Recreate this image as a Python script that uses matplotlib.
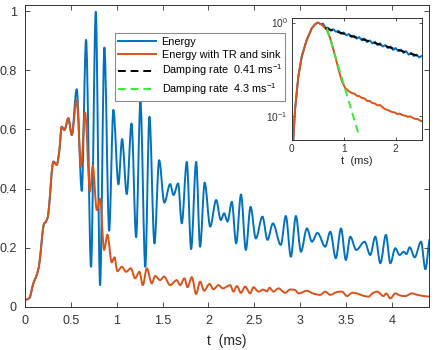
import numpy as np
import matplotlib
matplotlib.use("Agg")
import matplotlib.pyplot as plt
from matplotlib.path import Path
from matplotlib.patches import PathPatch
from matplotlib.lines import Line2D

# ---------------- data ----------------
# common rise (both curves coincide)
t_rise = [0.0, 0.03, 0.055, 0.091, 0.127, 0.157, 0.2, 0.229, 0.255, 0.31, 0.346,
          0.375, 0.4, 0.43, 0.473, 0.51]
e_rise = [0.023, 0.026, 0.034, 0.079, 0.107, 0.147, 0.271, 0.288, 0.316, 0.491, 0.48,
          0.53, 0.609, 0.598, 0.638, 0.581]

# "Energy" after the common part
t_energy = [0.564, 0.619, 0.666, 0.72, 0.772, 0.819, 0.866, 0.918, 0.964, 1.019, 1.059,
            1.11, 1.162, 1.212, 1.259, 1.312, 1.357, 1.412, 1.463, 1.52, 1.583, 1.62,
            1.67, 1.71, 1.765, 1.812, 1.867, 1.91, 1.96, 2.02, 2.085, 2.136, 2.172,
            2.209, 2.256, 2.303, 2.356, 2.409, 2.46, 2.518, 2.59, 2.645, 2.704, 2.79,
            2.845, 2.9, 2.955, 3.01, 3.075, 3.13, 3.19, 3.275, 3.33, 3.39, 3.447, 3.5,
            3.548, 3.613, 3.704, 3.766, 3.821, 3.876, 3.937, 3.985, 4.039, 4.086, 4.13,
            4.16, 4.196, 4.25, 4.32, 4.367, 4.41]
e_energy = [0.736, 0.392, 0.903, 0.135, 0.998, 0.073, 0.877, 0.257, 0.666, 0.414, 0.567,
            0.381, 0.62, 0.235, 0.694, 0.135, 0.643, 0.214, 0.496, 0.352, 0.415, 0.378,
            0.417, 0.282, 0.49, 0.195, 0.49, 0.203, 0.42, 0.271, 0.361, 0.293, 0.316,
            0.288, 0.355, 0.214, 0.38, 0.192, 0.338, 0.231, 0.305, 0.226, 0.282, 0.209,
            0.307, 0.169, 0.307, 0.186, 0.265, 0.22, 0.25, 0.203, 0.254, 0.164, 0.265, 0.158,
            0.237, 0.192, 0.22, 0.175, 0.237, 0.147, 0.243, 0.147, 0.198, 0.175, 0.186,
            0.178, 0.201, 0.167, 0.22, 0.127, 0.226]

# "Energy with TR and sink" after the common part
t_sink = [0.564, 0.611, 0.655, 0.709, 0.739, 0.783, 0.819, 0.863, 0.899, 0.946, 0.975,
          1.008, 1.056, 1.103, 1.154, 1.201, 1.248, 1.285, 1.329, 1.383, 1.419, 1.474,
          1.517, 1.583, 1.656, 1.692, 1.739, 1.772, 1.82, 1.867, 1.91, 1.954, 2.012,
          2.056, 2.11, 2.158, 2.238, 2.274, 2.311, 2.355, 2.402, 2.456, 2.492, 2.547,
          2.6, 2.64, 2.667, 2.71, 2.765, 2.838, 2.89, 2.948, 2.985, 3.075, 3.14, 3.22,
          3.275, 3.33, 3.395, 3.457, 3.512, 3.57, 3.621, 3.68, 3.748, 3.79, 3.84, 3.912,
          3.94, 3.985, 4.04, 4.09, 4.148, 4.22, 4.28, 4.348, 4.41]
e_sink = [0.70, 0.474, 0.657, 0.389, 0.476, 0.327, 0.365, 0.192, 0.244, 0.15, 0.167,
          0.12, 0.135, 0.118, 0.13, 0.096, 0.118, 0.073, 0.13, 0.079, 0.104, 0.09,
          0.102, 0.073, 0.09, 0.073, 0.096, 0.066, 0.1, 0.043, 0.085, 0.054, 0.077,
          0.059, 0.073, 0.062, 0.073, 0.051, 0.07, 0.047, 0.068, 0.045, 0.066, 0.051,
          0.058, 0.052, 0.064, 0.051, 0.062, 0.047, 0.058, 0.056, 0.045, 0.054, 0.045, 0.04,
          0.051, 0.04, 0.049, 0.051, 0.036, 0.047, 0.045, 0.038, 0.034, 0.045, 0.051, 0.036,
          0.045, 0.028, 0.045, 0.038, 0.036, 0.045, 0.04, 0.036, 0.034]

# inset: normalised energies (log scale)
t_in_rise = [0.015, 0.03, 0.064, 0.128, 0.193, 0.29, 0.387, 0.45, 0.503]
e_in_rise = [0.045, 0.056, 0.118, 0.267, 0.435, 0.655, 0.87, 0.96, 1.0]

t_in_energy = [0.56, 0.60, 0.65, 0.70, 0.75, 0.80, 0.85, 0.90, 0.95, 1.00, 1.05,
               1.10, 1.15, 1.20, 1.25, 1.30, 1.35, 1.40, 1.45, 1.50, 1.55, 1.60, 1.65,
               1.70, 1.75, 1.80, 1.85, 1.90, 1.95, 2.00, 2.05, 2.10, 2.15, 2.20, 2.25,
               2.30, 2.35, 2.40, 2.45, 2.50]
e_in_energy = [0.96, 0.975, 0.88, 0.88, 0.82, 0.85, 0.80, 0.815, 0.76, 0.785, 0.73,
               0.755, 0.70, 0.725, 0.675, 0.70, 0.645, 0.675, 0.62, 0.645, 0.60, 0.625,
               0.575, 0.60, 0.555, 0.575, 0.535, 0.555, 0.51, 0.535, 0.495, 0.515, 0.475,
               0.495, 0.455, 0.475, 0.44, 0.455, 0.425, 0.44]

t_in_sink = [0.58, 0.677, 0.74, 0.80, 0.838, 0.902, 0.967, 1.03, 1.10, 1.16,
             1.21, 1.25, 1.30, 1.354, 1.40, 1.45, 1.50, 1.547, 1.60, 1.65, 1.70, 1.74,
             1.79, 1.84, 1.89, 1.934, 1.98, 2.03, 2.08, 2.128, 2.18, 2.23, 2.28, 2.32,
             2.37, 2.42, 2.47, 2.51]
e_in_sink = [0.945, 0.836, 0.68, 0.52, 0.435, 0.314, 0.236, 0.20, 0.185, 0.177,
             0.174, 0.166, 0.164, 0.157, 0.155, 0.146, 0.146, 0.139, 0.137, 0.131, 0.132,
             0.126, 0.12, 0.117, 0.114, 0.111, 0.11, 0.106, 0.107, 0.103, 0.102, 0.099,
             0.1, 0.097, 0.094, 0.094, 0.09, 0.0885]

t_fit_slow = [0.644, 2.515]
e_fit_slow = [0.87, 0.428]
t_fit_fast = [0.677, 1.30]
e_fit_fast = [0.87, 0.061]

labels = ["Energy", "Energy with TR and sink",
          r"Damping rate  0.41 ms$^{-1}$", r"Damping rate  4.3 ms$^{-1}$"]
xticks = [0, 0.5, 1, 1.5, 2, 2.5, 3, 3.5, 4]
xticklabels = ["0", "0.5", "1", "1.5", "2", "2.5", "3", "3.5", "4"]
yticks = [0, 0.2, 0.4, 0.6, 0.8, 1.0]
yticklabels = ["0", "0.2", "0.4", "0.6", "0.8", "1"]

# ---------------- style ----------------
plt.rcParams['font.family'] = ['Liberation Sans', 'DejaVu Sans']
plt.rcParams['mathtext.fontset'] = 'custom'
plt.rcParams['mathtext.rm'] = 'Liberation Sans'
plt.rcParams['mathtext.it'] = 'Liberation Sans:italic'
plt.rcParams['mathtext.bf'] = 'Liberation Sans:bold'

BLUE = '#0072BD'
ORANGE = '#D95319'
GREEN = '#33EE33'
AXC = '0.2'
LW = 1.4
DASH = (0, (4, 2.5))


def smooth_curve(ax, ts, es, color):
    """Draw a smooth curve through the read points (flat tangent at extrema)."""
    n = len(ts)
    m = []
    for i in range(n):
        if i == 0:
            s = (es[1] - es[0]) / (ts[1] - ts[0])
        elif i == n - 1:
            s = (es[-1] - es[-2]) / (ts[-1] - ts[-2])
        else:
            d0 = es[i] - es[i - 1]
            d1 = es[i + 1] - es[i]
            s = 0.0 if d0 * d1 <= 0 else (es[i + 1] - es[i - 1]) / (ts[i + 1] - ts[i - 1])
        m.append(s)
    verts = [(ts[0], es[0])]
    codes = [Path.MOVETO]
    for i in range(n - 1):
        h = ts[i + 1] - ts[i]
        verts += [(ts[i] + h / 3, es[i] + m[i] * h / 3),
                  (ts[i + 1] - h / 3, es[i + 1] - m[i + 1] * h / 3),
                  (ts[i + 1], es[i + 1])]
        codes += [Path.CURVE4] * 3
    patch = PathPatch(Path(verts, codes), facecolor='none', edgecolor=color, lw=LW,
                      joinstyle='round', capstyle='round', transform=ax.transData)
    ax.add_patch(patch)
    return patch


fig = plt.figure(figsize=(4.36, 3.5), dpi=100)
ax = fig.add_axes([25/436, 1-306.7/350, (429.3-25)/436, (306.7-5)/350])

smooth_curve(ax, t_rise + t_energy, e_rise + e_energy, BLUE)
smooth_curve(ax, t_rise + t_sink, e_rise + e_sink, ORANGE)

ax.set_xlim(0, 4.41)
ax.set_ylim(0, 1.021)
ax.set_xticks(xticks)
ax.set_xticklabels(xticklabels)
ax.set_yticks(yticks)
ax.set_yticklabels(yticklabels)
ax.tick_params(direction='in', top=True, right=True, length=3.6, width=0.6,
               labelsize=9, pad=6, colors=AXC)
for s in ax.spines.values():
    s.set_color(AXC)
    s.set_linewidth(0.7)
ax.set_xlabel("t  (ms)", fontsize=10, labelpad=5, color='0.15')

handles = [Line2D([], [], color=BLUE, lw=LW), Line2D([], [], color=ORANGE, lw=LW),
           Line2D([], [], color='k', lw=LW, ls=DASH), Line2D([], [], color=GREEN, lw=LW, ls=DASH)]
leg = ax.legend(handles, labels, loc='upper left',
                bbox_to_anchor=(115/436, 1-33.3/350), bbox_transform=fig.transFigure,
                fontsize=7.8, handlelength=3.5, handletextpad=0.5, labelspacing=0.28,
                borderpad=0.3, borderaxespad=0, fancybox=False, framealpha=1)
leg.get_frame().set_edgecolor('0.55')
leg.get_frame().set_linewidth(0.8)

# ---------------- inset ----------------
ax2 = fig.add_axes([291.7/436, 1-140/350, (421.7-291.7)/436, (140-18.3)/350])
ax2.set_yscale('log')
ax2.plot(t_in_rise + t_in_energy, e_in_rise + e_in_energy, color=BLUE, lw=LW,
         solid_joinstyle='round')
ax2.plot(t_in_rise + t_in_sink, e_in_rise + e_in_sink, color=ORANGE, lw=LW,
         solid_joinstyle='round')
ax2.plot(t_fit_slow, e_fit_slow, color='k', lw=LW, ls=DASH)
ax2.plot(t_fit_fast, e_fit_fast, color=GREEN, lw=LW, ls=DASH)
ax2.set_xlim(0, 2.5)
ax2.set_ylim(0.056, 1.11)
ax2.set_xticks([0, 1, 2])
ax2.set_xticklabels(["0", "1", "2"])
ax2.set_yticks([0.1, 1])
ax2.set_yticklabels([r"$10^{-1}$", r"$10^{0}$"])
ax2.yaxis.set_minor_locator(matplotlib.ticker.NullLocator())
ax2.tick_params(direction='in', top=True, right=True, length=2.5, width=0.6,
                labelsize=7.3, pad=3, colors=AXC)
for s in ax2.spines.values():
    s.set_color(AXC)
    s.set_linewidth(0.7)
ax2.set_xlabel("t  (ms)", fontsize=8, labelpad=1, color='0.15')

fig.savefig("out.png", dpi=100)
